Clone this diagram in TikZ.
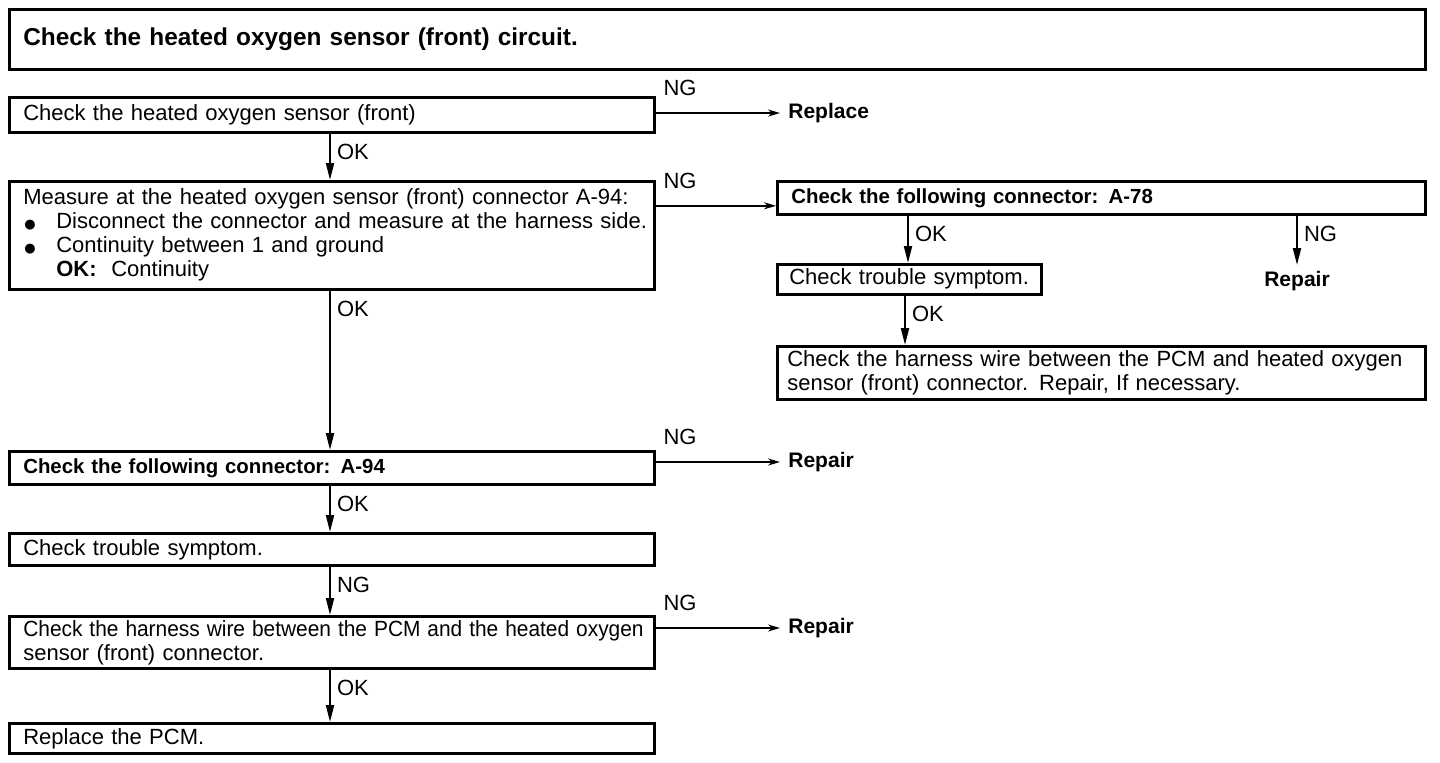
\documentclass[tikz,border=0pt]{standalone}
\usepackage{fontspec}
\setmainfont{Liberation Sans}
\newfontfamily\symf{DejaVu Sans}
\usetikzlibrary{arrows.meta,calc}
\newcommand\regf{\fontsize{11}{12}\selectfont}
\newcommand\bldf{\bfseries\fontsize{10.5}{12}\selectfont}
\newcommand\bldb{\bfseries\fontsize{10.2}{12}\selectfont}
\newcommand\ttlf{\bfseries\fontsize{12.2}{14}\selectfont}
\newcommand\bul{\makebox[16.5pt][l]{\hspace{0.5pt}{\symf\fontsize{6.5}{7}\selectfont ●}}}
\begin{document}
\begin{tikzpicture}[x=0.5pt,y=-0.5pt,
  box/.style={draw, line width=1.3pt, anchor=north west, inner xsep=7pt, inner ysep=0pt, align=left, font=\regf},
  res/.style={font=\bldf, anchor=west, inner xsep=4pt, inner ysep=0pt},
  nglbl/.style={font=\regf, anchor=south west, inner sep=0pt, xshift=3.5pt, yshift=8pt},
  oklbl/.style={font=\regf, anchor=north west, inner sep=0pt, xshift=3pt, yshift=-5pt},
  varrow/.style={line width=1pt, -{Triangle[length=8.5pt,width=4pt]}},
  harrow/.style={line width=0.9pt, -{Stealth[length=6pt,width=3.5pt]}}]
\useasboundingbox (0,0) rectangle (1440,762);
\fill[white] (0,0) rectangle (1440,762);
% columns
\coordinate (colA) at (330,0);
\coordinate (colB) at (908,0);
\coordinate (colD) at (905,0);
% title
\node[box, font=\ttlf, minimum width=708pt, minimum height=30pt, text width=694pt] (ttl) at (8,8) {\mbox{Check the heated oxygen sensor (front) circuit.}};
% left column
\node[box, minimum width=322.5pt, minimum height=17.5pt, text width=308.5pt] (b1) at (8,96) {\mbox{Check the heated oxygen sensor (front)}};
\node[box, minimum width=322.5pt, minimum height=54pt, text width=308.5pt] (b2) at (8,180) {\mbox{Measure at the heated oxygen sensor (front) connector A-94:}\\
\mbox{\bul Disconnect the connector and measure at the harness side.}\\
\mbox{\bul Continuity between 1 and ground}\\
\mbox{\hspace*{16.5pt}\textbf{OK:}\ \ Continuity}};
\node[box, font=\bldb, minimum width=322.5pt, minimum height=16.5pt, text width=308.5pt] (b6) at (8,450) {\mbox{Check the following connector: A-94}};
\node[box, minimum width=322.5pt, minimum height=16pt, text width=308.5pt] (b7) at (8,532) {\mbox{Check trouble symptom.}};
\node[box, minimum width=322.5pt, minimum height=26pt, text width=308.5pt] (b8) at (8,615) {\scalebox{0.95}[1]{Check the harness wire between the PCM and the heated oxygen}\\ \mbox{sensor (front) connector.}};
\node[box, minimum width=322.5pt, minimum height=15pt, text width=308.5pt] (b9) at (8,722) {\mbox{Replace the PCM.}};
% right column
\node[box, font=\bldb, minimum width=324pt, minimum height=16.5pt, text width=310pt] (b3) at (776,180) {\mbox{Check the following connector: A-78}};
\node[box, inner xsep=6pt, minimum width=132pt, minimum height=15pt, text width=120pt] (b4) at (776,263) {\mbox{Check trouble symptom.}};
\node[box, inner xsep=5pt, minimum width=324pt, minimum height=26.5pt, text width=314pt] (b5) at (776,345) {\mbox{Check the harness wire between the PCM and heated oxygen}\\ \mbox{sensor (front) connector. Repair, If necessary.}};
% results
\node[res] (rep1) at (780,113) {Replace};
\node[res] (rep3) at (780,462) {Repair};
\node[res] (rep4) at (780,628) {Repair};
\node[font=\bldf, inner xsep=0pt, inner ysep=3pt, anchor=north] (r2) at (1297,265) {Repair};
% horizontal NG arrows
\draw[harrow] (b1.east |- rep1.west) node[nglbl] {NG} -- (rep1.west);
\draw[harrow] ([yshift=-4pt]b3.west -| b2.east) node[nglbl] {NG} -- ([yshift=-4pt]b3.west);
\draw[harrow] (b6.east |- rep3.west) node[nglbl] {NG} -- (rep3.west);
\draw[harrow] (b8.east |- rep4.west) node[nglbl] {NG} -- (rep4.west);
% vertical arrows, left column
\draw[varrow] (b1.south -| colA) node[oklbl] {OK} -- (b2.north -| colA);
\draw[varrow] (b2.south -| colA) node[oklbl] {OK} -- (b6.north -| colA);
\draw[varrow] (b6.south -| colA) node[oklbl] {OK} -- (b7.north -| colA);
\draw[varrow] (b7.south -| colA) node[oklbl] {NG} -- (b8.north -| colA);
\draw[varrow] (b8.south -| colA) node[oklbl] {OK} -- (b9.north -| colA);
% vertical arrows, right column
\draw[varrow] (b3.south -| colB) node[oklbl] {OK} -- (b4.north -| colB);
\draw[varrow] (b3.south -| r2.north) node[oklbl] {NG} -- (r2.north);
\draw[varrow] (b4.south -| colD) node[oklbl] {OK} -- (b5.north -| colD);
\end{tikzpicture}
\end{document}
